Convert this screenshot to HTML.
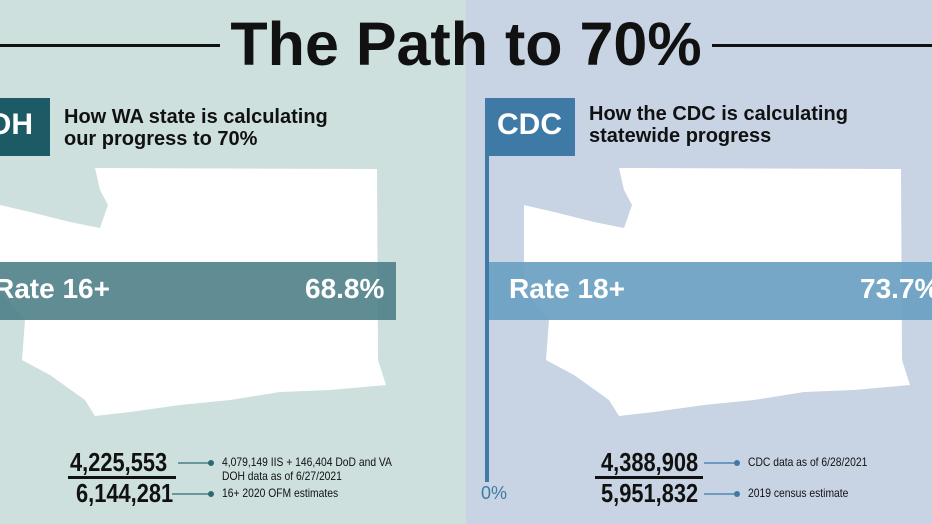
<!DOCTYPE html>
<html><head><meta charset="utf-8"><style>
body{margin:0;width:932px;height:524px;overflow:hidden;position:relative;font-family:"Liberation Sans",sans-serif}
.a{position:absolute}
.t{font-weight:bold;white-space:nowrap}
.n{font-weight:bold;font-size:26px;color:#111;white-space:nowrap;transform:scaleX(0.84);transform-origin:0 0}
.s{font-size:12px;color:#111;white-space:nowrap;line-height:14px;transform:scaleX(0.86);transform-origin:0 0}
</style></head><body>
<div class="a" style="left:0;top:0;width:466px;height:524px;background:#cde0de"></div>
<div class="a" style="left:466px;top:0;width:466px;height:524px;background:#c8d4e4"></div>
<svg class="a" style="left:0;top:0" width="932" height="524">
<g id="m" fill="#fff">
<polygon points="95,168 377,169 378,360 386,385 330,390 280,392 230,400 180,405 130,412 95,416 85,400 50,375 22,360 25,320 8,300 0,290 0,205 30,212 70,222 100,228 108,205 100,190"/>
</g>
<use href="#m" x="524"/>
<rect x="0" y="262" width="396" height="58" fill="#4f8088" opacity="0.9"/>
<rect x="489" y="262" width="443" height="58" fill="#6a9fc2" opacity="0.92"/>
<rect x="485" y="156" width="4" height="326" fill="#3f7aa6"/>
<rect x="0" y="44" width="220" height="3" fill="#111"/>
<rect x="712" y="44" width="220" height="3" fill="#111"/>
<rect x="68" y="476" width="108" height="3" fill="#111"/>
<rect x="595" y="476" width="108" height="3" fill="#111"/>
<g stroke="#4a7f86" stroke-width="1.5"><line x1="178" y1="463" x2="210" y2="463"/><line x1="172" y1="494" x2="210" y2="494"/></g>
<g fill="#2c6a72"><circle cx="211" cy="463" r="3"/><circle cx="211" cy="494" r="3"/></g>
<g stroke="#4f86b3" stroke-width="1.5"><line x1="704" y1="463" x2="736" y2="463"/><line x1="704" y1="494" x2="736" y2="494"/></g>
<g fill="#3f7aa6"><circle cx="737" cy="463" r="3"/><circle cx="737" cy="494" r="3"/></g>
</svg>
<div class="a t" style="left:0;width:932px;top:8px;text-align:center;font-size:61px;line-height:72px;color:#111">The Path to 70%</div>
<div class="a" style="left:0;top:98px;width:50px;height:58px;background:#1c5a65"></div>
<div class="a t" style="left:-12px;top:108px;font-size:30px;color:#fff">OH</div>
<div class="a t" style="left:64px;top:106px;font-size:20px;line-height:22px;color:#111">How WA state is calculating<br>our progress to 70%</div>
<div class="a" style="left:485px;top:98px;width:90px;height:58px;background:#3f7aa6"></div>
<div class="a t" style="left:497px;top:108px;font-size:30px;color:#fff">CDC</div>
<div class="a t" style="left:589px;top:103px;font-size:20px;line-height:22px;color:#111">How the CDC is calculating<br>statewide progress</div>
<div class="a t" style="left:-6px;top:273px;font-size:28px;color:#fff">Rate 16+</div>
<div class="a t" style="left:305px;top:273px;font-size:28px;color:#fff">68.8%</div>
<div class="a t" style="left:509px;top:273px;font-size:28px;color:#fff">Rate 18+</div>
<div class="a t" style="left:860px;top:273px;font-size:28px;color:#fff">73.7%</div>
<div class="a n" style="left:70px;top:447px">4,225,553</div>
<div class="a n" style="left:76px;top:478px">6,144,281</div>
<div class="a s" style="left:222px;top:455px">4,079,149 IIS + 146,404 DoD and VA<br>DOH data as of 6/27/2021</div>
<div class="a s" style="left:222px;top:486px">16+ 2020 OFM estimates</div>
<div class="a" style="left:481px;top:483px;font-size:18px;color:#3f7aa6">0%</div>
<div class="a n" style="left:601px;top:447px">4,388,908</div>
<div class="a n" style="left:601px;top:478px">5,951,832</div>
<div class="a s" style="left:748px;top:455px">CDC data as of 6/28/2021</div>
<div class="a s" style="left:748px;top:486px">2019 census estimate</div>
</body></html>
